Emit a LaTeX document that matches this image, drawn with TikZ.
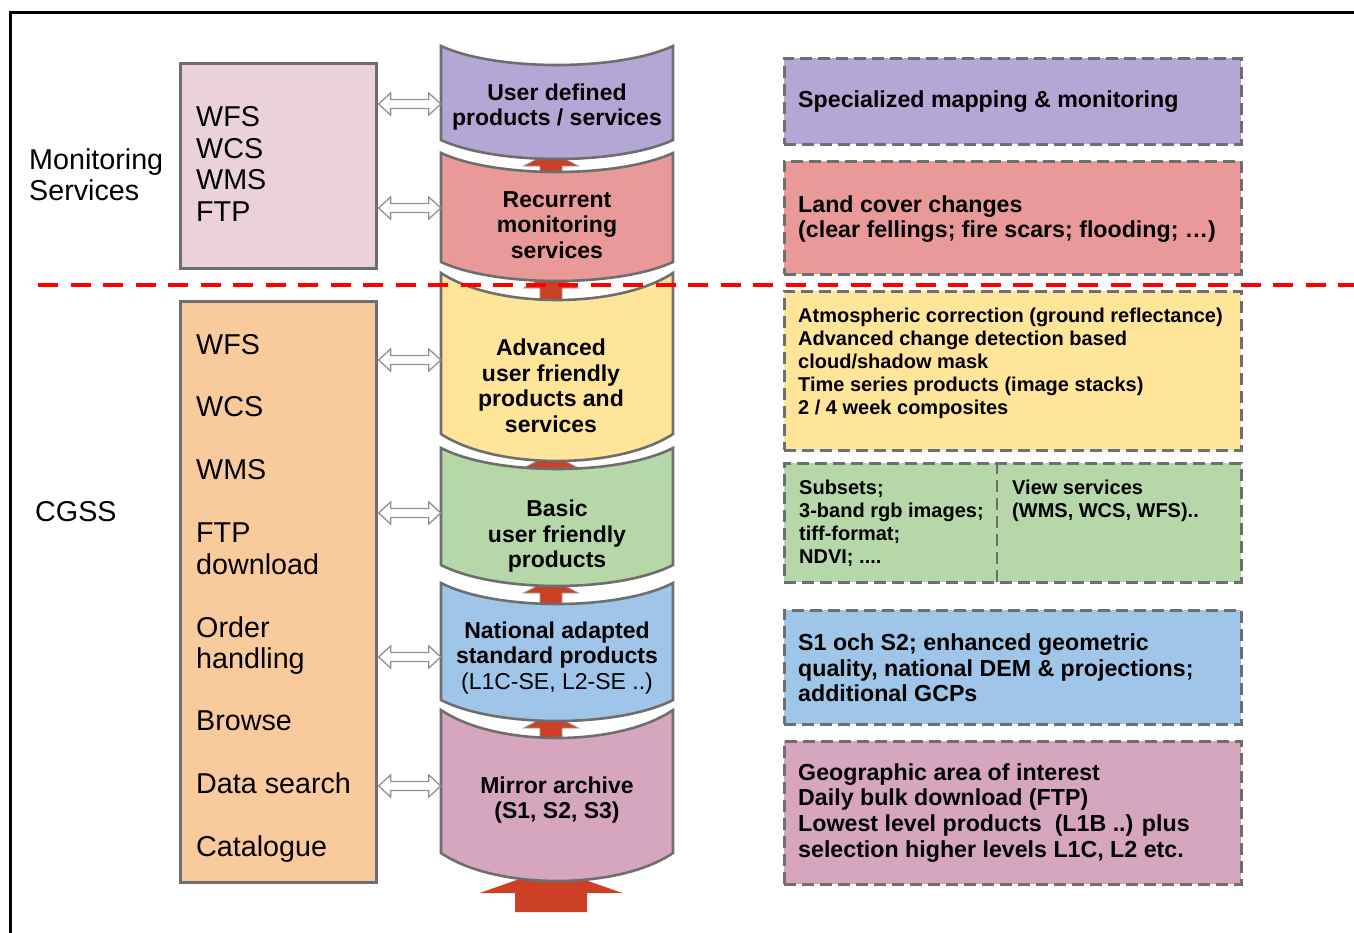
\documentclass[tikz,border=0pt]{standalone}
\usepackage{fontspec}
\setmainfont{Liberation Sans}
\usetikzlibrary{calc}

\definecolor{cPurple}{HTML}{B4A7D6}
\definecolor{cRed}{HTML}{EA9999}
\definecolor{cYellow}{HTML}{FFE599}
\definecolor{cGreen}{HTML}{B6D7A8}
\definecolor{cBlue}{HTML}{9FC5E8}
\definecolor{cPink}{HTML}{D5A6BD}
\definecolor{cLilac}{HTML}{EAD1DC}
\definecolor{cOrange}{HTML}{F9CB9C}
\definecolor{edge}{HTML}{6E6E6E}
\definecolor{flow}{HTML}{CC4125}

\tikzset{
  drumedge/.style={draw=edge, line width=2.6pt},
  drumtext/.style={font=\fontsize{23}{25.5}\selectfont\bfseries, align=center, inner sep=0pt, minimum width=232pt},
  svcbox/.style={draw=edge, line width=2.6pt, inner sep=0pt, anchor=north west},
  svctext/.style={font=\fontsize{28.7}{31.4}\selectfont, align=left, inner sep=0pt},
  notebox/.style={draw=edge, line width=2.6pt, dash pattern=on 12pt off 6pt, inner sep=0pt, anchor=north west},
  notetext/.style={font=\fontsize{23.2}{25.7}\selectfont\bfseries, align=left, inner sep=0pt},
  smalltext/.style={font=\fontsize{20}{23}\selectfont\bfseries, align=left, inner sep=0pt},
  liftstyle/.style={fill=flow, draw=edge!70, line width=0.8pt},
  linkstyle/.style={fill=white, draw=edge!75, line width=1.3pt},
  layerline/.style={draw=red, line width=4pt, dash pattern=on 20pt off 12.5pt},
}

% storage drum: name, fill, top y, bottom y, sag of the curved rims
\newcommand\drum[5]{%
  \filldraw[drumedge, fill=#2]
    (441,#3) .. controls (496,#3+1.333*#5) and (618,#3+1.333*#5) .. (673,#3)
    -- (673,#4) .. controls (618,#4+1.333*#5) and (496,#4+1.333*#5) .. (441,#4)
    -- cycle;}

% upward flow arrow from the top of one drum into the bottom of the next
\newcommand\liftarrow[2]{%
  \filldraw[liftstyle] let \p1=(#1), \p2=(#2) in
    (\x2,\y2+7pt) -- (\x2+27.5pt,\y2-7pt) -- (\x2+11pt,\y2-7pt) -- (\x2+11pt,\y1-3pt)
    -- (\x2-11pt,\y1-3pt) -- (\x2-11pt,\y2-7pt) -- (\x2-27.5pt,\y2-7pt) -- cycle;}

% hollow two-headed arrow between a service box and a drum, at height #3
\newcommand\linkarrow[3]{%
  \filldraw[linkstyle] let \p1=(#1.east), \p2=(#2.west) in
    (\x1+1pt,-#3pt) -- (\x1+13pt,-#3pt+11pt) -- (\x1+13pt,-#3pt+4.5pt)
    -- (\x2-12pt,-#3pt+4.5pt) -- (\x2-12pt,-#3pt+11pt) -- (\x2,-#3pt)
    -- (\x2-12pt,-#3pt-11pt) -- (\x2-12pt,-#3pt-4.5pt) -- (\x1+13pt,-#3pt-4.5pt)
    -- (\x1+13pt,-#3pt-11pt) -- cycle;}

\begin{document}
\begin{tikzpicture}[x=1pt,y=-1pt]
\useasboundingbox (0,0) rectangle (1354,932);

% outer frame
\draw[line width=2.5pt] (10.5,945) -- (10.5,12.5) -- (1370,12.5);

% side labels
\node[svctext, anchor=west] (lblmon) at (29,174.5) {Monitoring\\Services};
\node[svctext, anchor=base west] (lblcg) at (35,521) {CGSS};

% service boxes
\node[svcbox, fill=cLilac, minimum width=196pt, minimum height=205pt] (mon) at (179,62) {};
\node[svcbox, fill=cOrange, minimum width=196pt, minimum height=581pt] (cgss) at (179,300) {};
\node[svctext, anchor=west] (monlist) at (196,164) {WFS\\WCS\\WMS\\FTP};
\foreach \t/\b [count=\i] in {WFS/354, WCS/416, WMS/479, FTP/542, download/574,
    Order/637, handling/668, Browse/730, {Data search}/793, Catalogue/856}
  \node[svctext, anchor=base west] (cg\i) at (196,\b) {\t};

% rim middles of the drums: the flow arrows run between them
\coordinate (dA-bot) at (551,159);
\coordinate (dB-top) at (551,172);
\coordinate (dB-bot) at (551,281);
\coordinate (dC-top) at (551,300);
\coordinate (dC-bot) at (551,461);
\coordinate (dD-top) at (551,469);
\coordinate (dD-bot) at (551,586);
\coordinate (dE-top) at (551,604);
\coordinate (dE-bot) at (551,721);
\coordinate (dF-top) at (551,738);
\coordinate (dF-bot) at (551,881);
\coordinate (feed) at (551,912);

% flow arrows, drawn first so the drum rims cover their ends
\liftarrow{dB-top}{dA-bot}
\liftarrow{dC-top}{dB-bot}
\liftarrow{dD-top}{dC-bot}
\liftarrow{dE-top}{dD-bot}
\liftarrow{dF-top}{dE-bot}
\fill[flow] let \p1=(feed), \p2=(dF-bot) in
  (\x2,\y2+13pt) -- (\x2+71.5pt,\y2-12pt) -- (\x2+36pt,\y2-12pt) -- (\x2+36pt,\y1)
  -- (\x2-36pt,\y1) -- (\x2-36pt,\y2-12pt) -- (\x2-71.5pt,\y2-12pt) -- cycle;

% drums
\drum{dA}{cPurple}{46}{140}{19}
\drum{dB}{cRed}{153}{262}{19}
\drum{dC}{cYellow}{273}{434}{27}
\drum{dD}{cGreen}{448}{565}{21}
\drum{dE}{cBlue}{583}{700}{21}
\drum{dF}{cPink}{710}{853}{28}

% drum labels
\node[drumtext] (cA) at (557,107) {User defined\\products / services};
\node[drumtext] (cB) at (557,225) {Recurrent\\monitoring\\services};
\node[drumtext, minimum width=220pt] (cC) at (551,386) {Advanced\\user friendly\\products and\\services};
\node[drumtext] (cD) at (557,536.5) {Basic\\user friendly\\products};
\node[drumtext] (cE) at (557,657.7) {National adapted\\standard products\\{\mdseries (L1C-SE, L2-SE ..)}};
\node[drumtext] (cF) at (557,800) {Mirror archive\\(S1, S2, S3)};

% links between service boxes and drums
\linkarrow{mon}{cA}{104}
\linkarrow{mon}{cB}{208}
\linkarrow{cgss}{cC}{360}
\linkarrow{cgss}{cD}{513}
\linkarrow{cgss}{cE}{657}
\linkarrow{cgss}{cF}{786}

% notes on the right
\node[notebox, fill=cPurple, minimum width=457pt, minimum height=86pt] (nA) at (783,57) {};
\node[notebox, fill=cRed, minimum width=457pt, minimum height=113pt] (nB) at (783,160) {};
\node[notebox, fill=cYellow, minimum width=457pt, minimum height=159pt] (nC) at (783,290) {};
\node[notebox, fill=cGreen, minimum width=457pt, minimum height=119pt] (nD) at (783,462) {};
\node[notebox, fill=cBlue, minimum width=457pt, minimum height=114pt] (nE) at (783,609) {};
\node[notebox, fill=cPink, minimum width=457pt, minimum height=143pt] (nF) at (783,740) {};
\draw[draw=edge, line width=2.6pt, dash pattern=on 12pt off 6pt] (nD.north -| 997,0) -- (nD.south -| 997,0);

\node[notetext, anchor=base west] (tA) at (798,107.2) {Specialized mapping \& monitoring};
\node[notetext, anchor=west] (tB) at (798,219) {Land cover changes\\(clear fellings; fire scars; flooding; …)};
\node[smalltext, anchor=west] (tC) at (798,363) {Atmospheric correction (ground reflectance)\\Advanced change detection based\\cloud/shadow mask\\Time series products (image stacks)\\2 / 4 week composites};
\node[smalltext, anchor=west] (tD) at (799,522.8) {Subsets;\\3-band rgb images;\\tiff-format;\\NDVI; ....};
\node[smalltext, anchor=west] (tE) at (1012,500.5) {View services\\(WMS, WCS, WFS)..};
\node[notetext, anchor=west] (tF) at (798,667.7) {S1 och S2; enhanced geometric\\quality, national DEM \& projections;\\additional GCPs};
\node[notetext, anchor=west] (tG) at (798,812.7) {Geographic area of interest\\Daily bulk download (FTP)\\Lowest level products~ (L1B ..) plus\\selection higher levels L1C, L2 etc.};

% layer separator
\draw[layerline] (38,285) -- (1370,285);
\end{tikzpicture}
\end{document}
